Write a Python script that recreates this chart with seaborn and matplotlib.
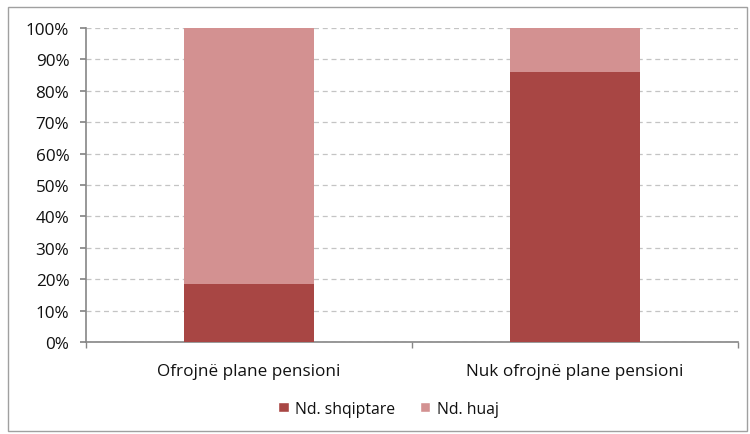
import pandas as pd
import matplotlib.pyplot as plt
import seaborn as sns
from matplotlib.patches import Patch, Rectangle
from matplotlib.ticker import MultipleLocator, PercentFormatter

categories = ["Ofrojnë plane pensioni", "Nuk ofrojnë plane pensioni"]
shqiptare = [18.5, 86.0]
huaj = [81.5, 14.0]
series_names = ["Nd. shqiptare", "Nd. huaj"]

DARK = "#A84644"
LIGHT = "#D39191"

sns.set_theme(style="white")
plt.rcParams["font.family"] = ["Open Sans", "DejaVu Sans"]

df = pd.DataFrame({
    "category": categories,
    "shqiptare": shqiptare,
    "total": [a + b for a, b in zip(shqiptare, huaj)],
})

fig = plt.figure(figsize=(7.5, 4.35), dpi=100)
ax = fig.add_axes([0.1147, 0.2115, 0.8693, 0.7218])

# stacked bars: full height in light, Albanian share in dark on top of it
sns.barplot(data=df, x="category", y="total", color=LIGHT, width=0.4,
            saturation=1, linewidth=0, ax=ax, zorder=3)
sns.barplot(data=df, x="category", y="shqiptare", color=DARK, width=0.4,
            saturation=1, linewidth=0, ax=ax, zorder=3)

ax.set_xlim(-0.5, 1.5)
ax.set_ylim(0, 100)
ax.yaxis.set_major_locator(MultipleLocator(10))
ax.yaxis.set_major_formatter(PercentFormatter(decimals=0))
ax.yaxis.grid(True, linestyle=(0, (4, 3)), color="#C4C4C4", linewidth=0.9)
ax.set_axisbelow(True)
ax.set_xlabel("")
ax.set_ylabel("")

for side in ["top", "right"]:
    ax.spines[side].set_visible(False)
for side in ["left", "bottom"]:
    ax.spines[side].set_color("#868686")
    ax.spines[side].set_linewidth(1.2)

ax.tick_params(axis="y", left=True, length=4, color="#868686",
               labelsize=12.3, pad=8, labelcolor="#111111")
ax.tick_params(axis="x", bottom=False, labelsize=12.3, pad=9,
               labelcolor="#111111")
# category boundary ticks on the x axis
ax.set_xticks([-0.5, 0.5, 1.5], minor=True)
ax.tick_params(axis="x", which="minor", bottom=True, length=4,
               color="#868686")

handles = [Patch(facecolor=DARK, label=series_names[0]),
           Patch(facecolor=LIGHT, label=series_names[1])]
fig.legend(handles=handles, loc="center", bbox_to_anchor=(0.518, 0.058),
           ncol=2, frameon=False, fontsize=11.3, handlelength=0.65,
           handleheight=0.65, handletextpad=0.4, columnspacing=1.6,
           labelcolor="#111111")

fig.patches.append(Rectangle((0.011, 0.007), 0.985, 0.975,
                             transform=fig.transFigure, fill=False,
                             edgecolor="#A0A0A0", linewidth=1))

fig.savefig("out.png", dpi=100)
